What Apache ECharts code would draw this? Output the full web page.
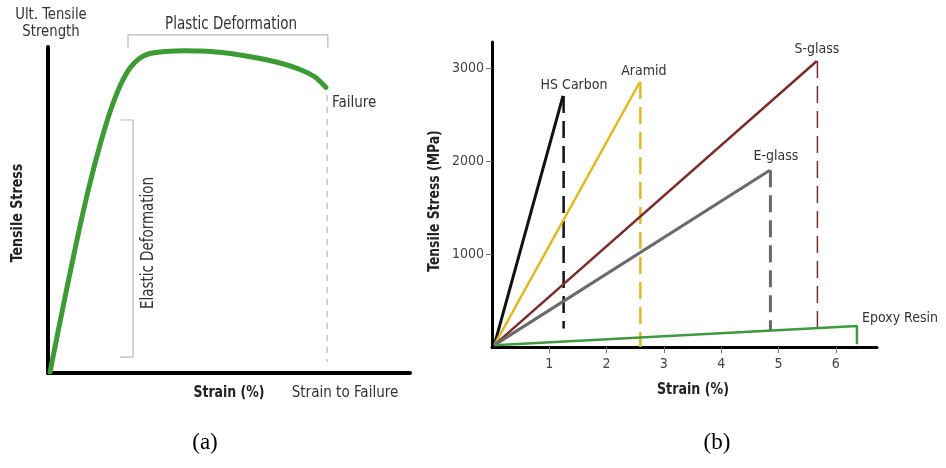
<!DOCTYPE html>
<html><head><meta charset="utf-8">
<script src="https://cdn.jsdelivr.net/npm/echarts@6/dist/echarts.min.js"></script>
<style>html,body{margin:0;padding:0;background:#fff}#c{width:946px;height:468px}</style>
</head><body><div id="c"></div>
<script>
// ---------- Panel (a): schematic stress-strain curve (arbitrary units 0-100) ----------
const curveStrainA = [0.55, 3.31, 6.08, 8.84, 11.60, 14.36, 17.13, 19.89, 22.65, 25.41, 28.18, 32.32, 37.85, 41.99, 47.51, 53.04, 58.56, 64.09, 69.61, 73.76, 76.8];
const curveStressA = [0.31, 15.64, 30.67, 45.09, 58.28, 69.94, 80.06, 88.04, 93.56, 96.63, 98.01, 98.62, 98.87, 98.8, 98.4, 97.55, 96.47, 95.09, 93.1, 90.8, 87.58];
const failureStrainA = 77.1;
const plasticRange = [22.1, 77.3];   // strain range of plastic-deformation bracket
const elasticRange = [4.9, 77.6];    // stress range of elastic-deformation bracket

// ---------- Panel (b): fibre / resin stress-strain ----------
const materials     = ['HS Carbon', 'Aramid', 'S-glass', 'E-glass', 'Epoxy Resin'];
const failureStrain = [1.24, 2.58, 5.67, 4.85, 6.37];   // %
const failureStress = [2700, 2850, 3075, 1900, 225];    // MPa
const dashBottom    = [200, 0, 200, 170, 30];           // MPa, lower end of failure drop line
const xTicksB = [1, 2, 3, 4, 5, 6];
const yTicksB = [1000, 2000, 3000];

const colorsB = ['#111111', '#e0b922', '#7a2c29', '#6a6a6a', '#3f9a3d'];
const widthsB = [3, 2.5, 2.5, 3, 2.5];
const dashW   = [2.5, 2.5, 1.5, 3, 2];
const labelOff = [[11, -11], [4, -11], [0, -12], [6, -14], [5, -8]];
const labelAlign = ['center', 'center', 'center', 'center', 'left'];

const NARROW = '"Liberation Sans Narrow","DejaVu Sans Condensed","Roboto",sans-serif';
const chart = echarts.init(document.getElementById('c'), null, {renderer: 'canvas'});

const series = [];
// (a) curve
series.push({
  type: 'line', xAxisIndex: 0, yAxisIndex: 0, smooth: 0.25, showSymbol: false,
  data: curveStrainA.map((v, i) => [v, curveStressA[i]]),
  lineStyle: {color: '#3d9b35', width: 5, cap: 'round', join: 'round'}, z: 5
});
// (a) brackets and failure line
series.push({
  type: 'line', xAxisIndex: 0, yAxisIndex: 0, showSymbol: false, clip: false, silent: true,
  data: [[plasticRange[0], 99.7], [plasticRange[0], 103.7], [plasticRange[1], 103.7], [plasticRange[1], 99.7]],
  lineStyle: {color: '#b8b8b8', width: 1.2}
});
series.push({
  type: 'line', xAxisIndex: 0, yAxisIndex: 0, showSymbol: false, clip: false, silent: true,
  data: [[19.9, elasticRange[1]], [23.5, elasticRange[1]], [23.5, elasticRange[0]], [19.9, elasticRange[0]]],
  lineStyle: {color: '#b8b8b8', width: 1.2}
});
series.push({
  type: 'line', xAxisIndex: 0, yAxisIndex: 0, showSymbol: false, clip: false, silent: true,
  data: [[failureStrainA, 85.3], [failureStrainA, 3.4]],
  lineStyle: {color: '#b8b8b8', width: 1.2, type: [6, 6]}
});

// (b) material lines
materials.forEach((m, i) => {
  const pts = [{value: [0.04, 20]}, {
    value: [failureStrain[i], failureStress[i]],
    label: {show: true, formatter: m, position: 'top', distance: 0,
      offset: labelOff[i], align: labelAlign[i], verticalAlign: 'middle',
      fontFamily: NARROW, fontSize: 14, color: '#333'}
  }];
  if (i === 4) pts.push({value: [failureStrain[i], dashBottom[i]]});
  series.push({
    type: 'line', xAxisIndex: 1, yAxisIndex: 1, symbolSize: 0, showSymbol: true,
    data: pts, lineStyle: {color: colorsB[i], width: widthsB[i]}, itemStyle: {color: colorsB[i]}, z: 4
  });
  if (i < 4) {
    series.push({
      type: 'line', xAxisIndex: 1, yAxisIndex: 1, showSymbol: false,
      data: [[failureStrain[i] + 0.01, failureStress[i]], [failureStrain[i] + 0.01, dashBottom[i]]],
      lineStyle: {color: colorsB[i], width: dashW[i], type: [17, 8]}, z: 3
    });
  }
});

const txt = (x, y, s, o, sx, rot) => ({type: 'text', x, y, scaleX: sx || 1, rotation: rot || 0,
  style: Object.assign({text: s, fill: '#333', font: '16px ' + NARROW, textAlign: 'center', textVerticalAlign: 'middle'}, o || {})});
const R = Math.PI / 2;

chart.setOption({
  animation: false,
  backgroundColor: '#fff',
  grid: [
    {left: 48, top: 47, width: 362, height: 326},
    {left: 492, top: 42, width: 385, height: 305}
  ],
  xAxis: [
    {gridIndex: 0, type: 'value', min: 0, max: 100, axisLine: {lineStyle: {color: '#000', width: 4}},
      axisTick: {show: false}, axisLabel: {show: false}, splitLine: {show: false}},
    {gridIndex: 1, type: 'value', min: 0, max: 6.72, interval: 1,
      axisLine: {onZero: false, lineStyle: {color: '#000', width: 3}},
      axisTick: {show: true, length: 6, customValues: xTicksB, lineStyle: {color: '#777', width: 1}},
      axisLabel: {color: '#444', fontFamily: NARROW, fontSize: 14, margin: 10, customValues: xTicksB,
        formatter: v => String(v)},
      splitLine: {show: false}}
  ],
  yAxis: [
    {gridIndex: 0, type: 'value', min: 0, max: 100, axisLine: {show: true, lineStyle: {color: '#000', width: 4}},
      axisTick: {show: false}, axisLabel: {show: false}, splitLine: {show: false}},
    {gridIndex: 1, type: 'value', min: 0, max: 3280, interval: 1000,
      axisLine: {show: true, onZero: false, lineStyle: {color: '#000', width: 3}},
      axisTick: {show: true, length: 6, customValues: yTicksB, lineStyle: {color: '#777', width: 1}},
      axisLabel: {color: '#444', fontFamily: NARROW, fontSize: 14, margin: 8, customValues: yTicksB,
        formatter: v => String(v)},
      splitLine: {show: false}}
  ],
  series,
  graphic: [
    txt(51, 15, 'Ult. Tensile', null, 0.92),
    txt(51, 32, 'Strength', null, 0.92),
    txt(231, 25, 'Plastic Deformation', {font: '17px ' + NARROW}, 0.88),
    txt(332, 103, 'Failure', {textAlign: 'left'}, 0.94),
    txt(149, 243, 'Elastic Deformation', {font: '17px ' + NARROW}, 0.88, R),
    txt(18, 213, 'Tensile Stress', {font: 'bold 16px ' + NARROW, fill: '#222'}, 0.88, R),
    txt(229, 393, 'Strain (%)', {font: 'bold 16px ' + NARROW, fill: '#222'}, 0.87),
    txt(345, 393, 'Strain to Failure', null, 0.94),
    txt(435, 201, 'Tensile Stress (MPa)', {font: 'bold 16px ' + NARROW, fill: '#222'}, 0.86, R),
    txt(693, 390, 'Strain (%)', {font: 'bold 16px ' + NARROW, fill: '#222'}, 0.88),
    txt(205, 443, '(a)', {font: '23px "Liberation Serif","Times New Roman",serif', fill: '#000'}),
    txt(717, 443, '(b)', {font: '23px "Liberation Serif","Times New Roman",serif', fill: '#000'})
  ]
});
</script></body></html>
